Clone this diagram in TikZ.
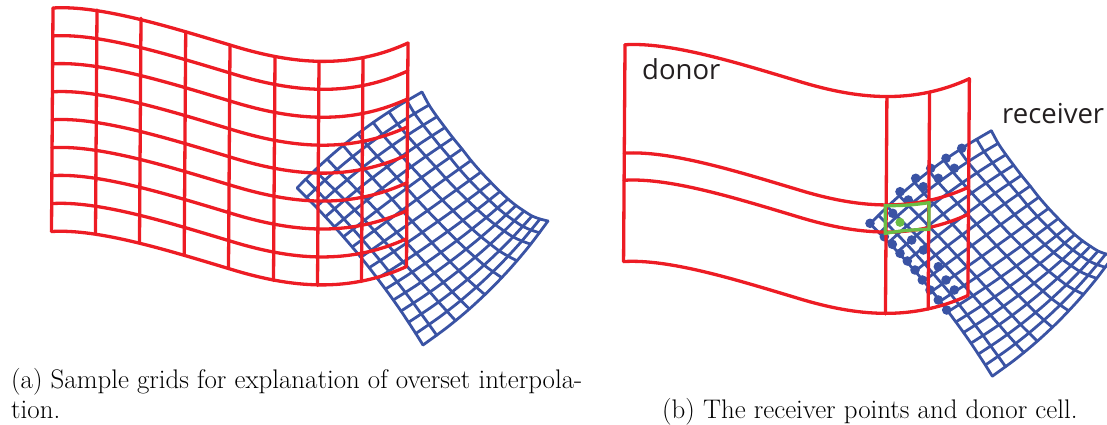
\documentclass[tikz,border=0pt]{standalone}
\usepackage{fontspec}
\newfontfamily\labelfont{Open Sans}

\definecolor{gridred}{HTML}{ED1C24}
\definecolor{gridblue}{HTML}{3A53A4}
\definecolor{cellgreen}{HTML}{6ABD45}
\definecolor{labelblack}{HTML}{231F20}

% Bordes de la malla azul: izquierdo-inferior (p) y superior-derecho (q)
\def\meshpx{{297,306.6,316.1,325.4,334.5,343.4,352.2,360.8,369.2,377.4,385.4,393.3,401,408.5,415.8,423}}
\def\meshpy{{188,197.5,207.1,216.8,226.8,236.8,247,257.3,267.7,278.4,289.1,300,311,322.3,333.5,345}}
\def\meshqx{{422,429,437,445,453,462,471,481,491,500,508,516,524,532,540,548}}
\def\meshqy{{92,105,116.7,127.5,138,149,160.5,172,182.5,191.5,199,205.5,211,216,219,221}}
% Fraccion de cada linea larga en el primer y el ultimo borde corto
\def\meshra{{0,.078,.158,.264,.397,.517,.637,.757,.89,1}}
\def\meshrb{{0,.096,.232,.336,.456,.592,.72,.84,.92,1}}

% Curva superior de la malla roja, desplazada fila a fila
\newcommand{\redrow}[1]{
  \draw[redline, shift={(-0.19*#1,27.94*#1)}] (53,8) .. controls (100,5) and (170,27) .. (230,45)
    .. controls (285,62) and (345,72) .. (408,43);
}

% Malla azul completa
\newcommand{\bluemesh}{
  % Lineas cortas
  \foreach \ii in {0,...,15}
    \draw[blueline] plot[smooth, samples=7, domain=0:1, variable=\ss] ({mx(\ii,\ss)},{my(\ii,\ss)});
  % Lineas largas
  \foreach \jj in {0,...,9}
    \draw[blueline] plot[smooth, samples at={0,...,15}, variable=\tt]
      ({mx(\tt,mfrac(\jj,\tt))},{my(\tt,mfrac(\jj,\tt))});
}

\begin{document}
\begin{tikzpicture}[
  x=1pt, y=-1pt,
  declare function={
    mx(\i,\s)=\meshpx[int(\i)]+\s*(\meshqx[int(\i)]-\meshpx[int(\i)])-0.62*4*\s*(1-\s)*(6-14*\i/15);
    my(\i,\s)=\meshpy[int(\i)]+\s*(\meshqy[int(\i)]-\meshpy[int(\i)])-0.78*4*\s*(1-\s)*(6-14*\i/15);
    mfrac(\j,\i)=\meshra[int(\j)]*(1-\i/15)+\meshrb[int(\j)]*\i/15;
  },
  redline/.style={draw=gridred, line width=3.3pt, line cap=round, line join=miter},
  blueline/.style={draw=gridblue, line width=2.8pt, line cap=round},
  greenline/.style={draw=cellgreen, line width=3.3pt, line join=miter},
  recvdot/.style={fill=gridblue},
  gridlabel/.style={font=\labelfont\fontsize{27.5}{30}\selectfont, text=labelblack, inner sep=0pt, anchor=base west},
  caption/.style={font=\fontsize{26.9}{30}\selectfont, text=black, inner sep=0pt, anchor=base west}
]

  \useasboundingbox (0,0) rectangle (1107,425);
  \clip (0,0) rectangle (1107,425);

  % Panel (a)
  \bluemesh
  \foreach \row in {0,...,8} {\redrow{\row}}
  \foreach \xx/\yy in {53/8, 97/10, 141/18.3, 185.7/31.7, 230/45, 275/57, 319/62, 363/58, 408/43}
    \draw[redline] (\xx,\yy) -- (\xx-1.5,\yy+223.5);

  % Panel (b): malla azul y puntos receptores
  \begin{scope}[shift={(582,41.5)}, scale=0.97]
    \bluemesh
  \end{scope}
  \foreach \dx/\dy in {
    870/223.3, 900/191.7, 915.7/178.3, 930.7/168.3, 946/158.3, 961.7/148.3,
    892.7/213.3, 908.3/200, 923.3/186.7, 938.3/178.3, 954.3/168.3,
    884.3/236.7, 892.3/244.3, 900/253.3, 907.3/261, 915/270, 922.3/280, 930/290, 938.3/300, 946.7/310,
    911.7/240, 923.3/250, 938.3/266.7, 946/280, 954.3/290}
    \fill[recvdot] (\dx,\dy) circle (4.8);

  % Panel (b): celdas donantes
  \begin{scope}[shift={(573.6,37)}, scale=0.97]
    \foreach \row in {0,4,5,8} {\redrow{\row}}
    \foreach \xx/\yy in {53/8, 323/62, 367/57, 408/43}
      \draw[redline] (\xx,\yy) -- (\xx-1.5,\yy+223.5);
  \end{scope}

  % Celda donante y punto receptor en verde
  \draw[greenline] (885.3,205.7) to[bend left=-4] (929,202.7) -- (929,229.3) to[bend left=-4] (885.3,233.3) -- cycle;
  \fill[cellgreen] (900,222.3) circle (4.6);

  % Etiquetas
  \node[gridlabel] (donor) at (642,80) {donor};
  \node[gridlabel] (receiver) at (1002,124) {receiver};
  \node[caption] (capa1) at (11,388) {(a) Sample grids for explanation of overset interpola-};
  \node[caption] (capa2) at (11,418) {tion.};
  \node[caption] (capb) at (662,418) {(b) The receiver points and donor cell.};

\end{tikzpicture}
\end{document}
